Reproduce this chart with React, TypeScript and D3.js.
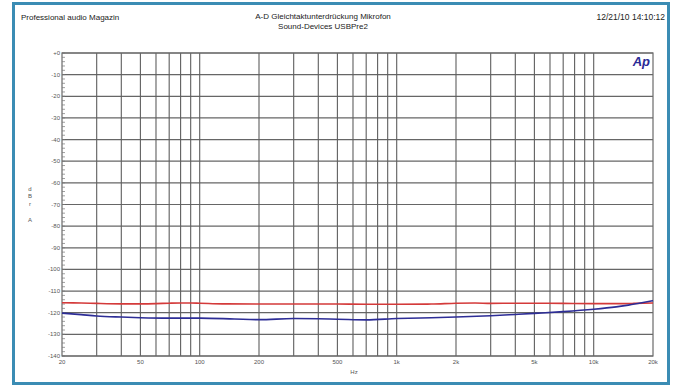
import * as d3 from "d3";

// measured curves (Hz, dBrA)
const redFreq = [20, 25, 30, 40, 50, 60, 70, 80, 90, 100, 130, 200, 300, 500, 700, 1000, 1500, 2000, 2500, 3000, 4000, 5000, 7000, 10000, 13000, 16000, 20000];
const redLevel = [-115.4, -115.5, -115.7, -115.9, -115.9, -115.8, -115.6, -115.5, -115.5, -115.6, -115.9, -116, -116, -116, -116.1, -116.1, -116, -115.6, -115.5, -115.7, -115.6, -115.6, -115.7, -115.8, -115.8, -115.7, -115.5];
const blueFreq = [20, 25, 30, 40, 50, 70, 100, 150, 200, 300, 500, 700, 1000, 1500, 2000, 3000, 4000, 5000, 7000, 10000, 13000, 15000, 17000, 20000];
const blueLevel = [-120.2, -120.9, -121.5, -122, -122.3, -122.5, -122.5, -122.9, -123.2, -122.7, -123, -123.3, -122.7, -122.3, -122, -121.4, -120.8, -120.3, -119.5, -118.4, -117.3, -116.5, -115.6, -114.4];

const yTicks = [0, -10, -20, -30, -40, -50, -60, -70, -80, -90, -100, -110, -120, -130, -140];
const xGrid = [30, 40, 50, 60, 70, 80, 90, 100, 200, 300, 400, 500, 600, 700, 800, 900, 1000, 2000, 3000, 4000, 5000, 6000, 7000, 8000, 9000, 10000];
const xLabels = [20, 50, 100, 200, 500, 1000, 2000, 5000, 10000, 20000];
const xLabelText = ["20", "50", "100", "200", "500", "1k", "2k", "5k", "10k", "20k"];
const unitLetters = ["d", "B", "r", "A"];

const W = 680;
const H = 388;
const left = 62;
const right = 653;
const top = 53;
const bottom = 356;
const font = "'Liberation Sans', Arial, sans-serif";

export default function App() {
  const x = d3.scaleLog().domain([20, 20000]).range([left, right]);
  const y = d3.scaleLinear().domain([0, -140]).range([top, bottom]);

  const line = d3
    .line<[number, number]>()
    .x((d) => x(d[0]))
    .y((d) => y(d[1]))
    .curve(d3.curveMonotoneX);

  const red = line(redFreq.map((f, i) => [f, redLevel[i]]) as [number, number][]) ?? "";
  const blue = line(blueFreq.map((f, i) => [f, blueLevel[i]]) as [number, number][]) ?? "";

  const minor = d3.range(0, -141, -2);
  const unitY = [191, 198, 206, 222];

  return (
    <svg
      width={W}
      height={H}
      style={{ position: "absolute", left: 0, top: 0, display: "block" }}
      fontFamily={font}
    >
      <rect x={0} y={0} width={W} height={H} fill="#fff" />
      <rect x={13.5} y={3.5} width={655} height={380} fill="#fff" stroke="#3b8cb4" strokeWidth={3} />

      <text x={21} y={20} fontSize={8} fill="#222">Professional audio Magazin</text>
      <text x={323} y={19} fontSize={8} fill="#222" textAnchor="middle">A-D Gleichtaktunterdrückung Mikrofon</text>
      <text x={323} y={29} fontSize={8} fill="#222" textAnchor="middle">Sound-Devices USBPre2</text>
      <text x={665} y={20} fontSize={8.5} fill="#222" textAnchor="end">12/21/10 14:10:12</text>

      {/* horizontal grid */}
      {yTicks.map((v) => (
        <line key={"h" + v} x1={left} x2={right} y1={y(v)} y2={y(v)} stroke="#666" strokeWidth={1.2} />
      ))}
      {/* vertical grid */}
      {xGrid.map((f) => (
        <line key={"v" + f} x1={x(f)} x2={x(f)} y1={top} y2={bottom} stroke="#5e5e5e" strokeWidth={1.1} />
      ))}
      <rect x={left} y={top} width={right - left} height={bottom - top} fill="none" stroke="#6a6a6a" strokeWidth={1.2} />

      {/* minor ticks on the left */}
      {minor.map((v) => (
        <line key={"m" + v} x1={left} x2={left + 3} y1={y(v)} y2={y(v)} stroke="#777" strokeWidth={0.7} />
      ))}

      {yTicks.map((v) => (
        <text key={"yl" + v} x={left - 2} y={y(v) + 2} fontSize={6} fill="#555" textAnchor="end">
          {v === 0 ? "+0" : String(v)}
        </text>
      ))}
      {xLabels.map((f, i) => (
        <text key={"xl" + f} x={x(f)} y={364} fontSize={6} fill="#555" textAnchor="middle">
          {xLabelText[i]}
        </text>
      ))}
      <text x={354} y={374} fontSize={6} fill="#555" textAnchor="middle">Hz</text>

      {unitLetters.map((c, i) => (
        <text key={c} x={30} y={unitY[i]} fontSize={6} fill="#555" textAnchor="middle">{c}</text>
      ))}

      <text x={650} y={66} fontSize={13} fontWeight="bold" fontStyle="italic" fill="#2a2a96" textAnchor="end">Ap</text>

      <path d={red} fill="none" stroke="#d43a3a" strokeWidth={1.6} />
      <path d={blue} fill="none" stroke="#2d2d96" strokeWidth={1.6} />
    </svg>
  );
}
